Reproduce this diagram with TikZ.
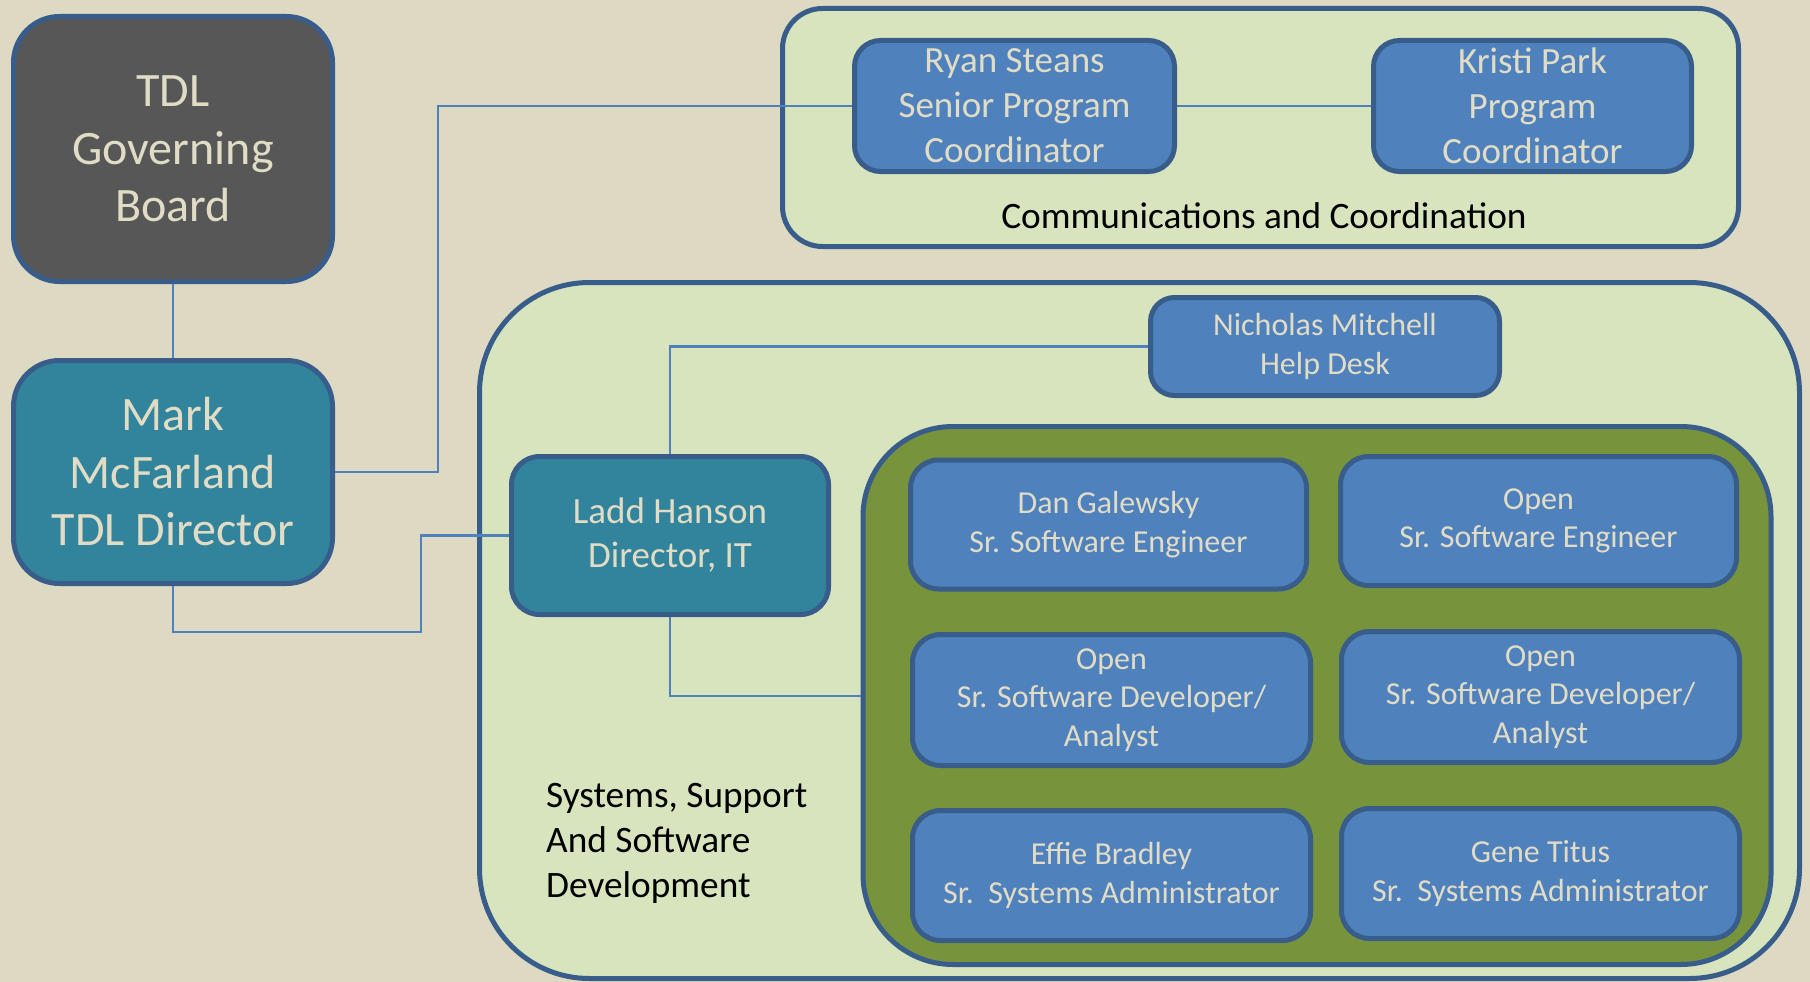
\documentclass[tikz,border=0pt]{standalone}
\usepackage{fontspec}
\setmainfont{Carlito}
\definecolor{bgc}{HTML}{DDD9C3}
\definecolor{bord}{HTML}{385D8A}
\definecolor{bluef}{HTML}{4F81BD}
\definecolor{tealf}{HTML}{31849B}
\definecolor{greyf}{HTML}{575757}
\definecolor{lgreen}{HTML}{D7E4BD}
\definecolor{olive}{HTML}{77933C}
\definecolor{ltext}{HTML}{E1DCC6}
\begin{document}
\begin{tikzpicture}[x=1pt,y=-1pt,
  box/.style={draw=bord, line width=5pt, rectangle, inner sep=0pt, align=center, text=ltext},
  bigbox/.style={box, rounded corners=46pt, font=\fontsize{48}{57.5}\selectfont},
  midbox/.style={box, fill=tealf, rounded corners=28pt, font=\fontsize{37}{44}\selectfont},
  coordbox/.style={box, fill=bluef, rounded corners=26pt, font=\fontsize{37}{45}\selectfont},
  staffbox/.style={box, fill=bluef, rounded corners=28pt, font=\fontsize{32}{38.5}\selectfont},
  conn/.style={draw=bluef, line width=2.2pt},
  lbl/.style={text=black, inner sep=0pt, font=\fontsize{37.3}{45}\selectfont}]
\fill[bgc] (0,0) rectangle (1810,982);
\useasboundingbox (0,0) rectangle (1810,982);
% containers
\node[box, fill=lgreen, rounded corners=40pt, minimum width=956pt, minimum height=238pt] (comm) at (1260.5,127.5) {};
\node[box, fill=lgreen, rounded corners=110pt, minimum width=1320pt, minimum height=696pt] (sys) at (1139.5,630.5) {};
\node[box, fill=olive, rounded corners=90pt, minimum width=908pt, minimum height=538pt] (grn) at (1317,695.5) {};
\node[lbl] (commlbl) at (1264,216) {Communications and Coordination};
\node[lbl, anchor=base west, align=left] (syslbl) at (546,897) {Systems, Support\\And Software\\Development};
% people
\node[bigbox, fill=greyf, minimum width=319pt, minimum height=265pt] (board) at (173,149) {TDL\\Governing\\Board};
\node[bigbox, fill=tealf, minimum width=319pt, minimum height=223pt] (mark) at (173,472) {Mark\\McFarland\\TDL Director};
\node[midbox, minimum width=317pt, minimum height=158pt] (ladd) at (670,535.5) {Ladd Hanson\\Director, IT};
\node[coordbox, minimum width=320pt, minimum height=131pt] (ryan) at (1014.5,106) {Ryan Steans\\Senior Program\\Coordinator};
\node[coordbox, minimum width=318pt, minimum height=131pt] (kristi) at (1532.5,106) {Kristi Park\\Program\\Coordinator};
\node[staffbox, rounded corners=24pt, minimum width=349pt, minimum height=98pt] (nick) at (1325,346.5) {Nicholas Mitchell\\Help Desk};
\node[staffbox, minimum width=396pt, minimum height=129pt] (dan) at (1108.5,524.5) {Dan Galewsky\\Sr. Software Engineer};
\node[staffbox, minimum width=396pt, minimum height=129pt] (opse) at (1538.5,521) {Open\\Sr. Software Engineer};
\node[staffbox, minimum width=398pt, minimum height=131pt] (opdl) at (1111.5,700) {Open\\Sr. Software Developer/\\Analyst};
\node[staffbox, minimum width=398pt, minimum height=131pt] (opdr) at (1540.5,697) {Open\\Sr. Software Developer/\\Analyst};
\node[staffbox, minimum width=398pt, minimum height=130pt] (effie) at (1111.5,875.5) {Effie Bradley\\Sr.\ \ Systems Administrator};
\node[staffbox, minimum width=398pt, minimum height=130pt] (gene) at (1540.5,873.5) {Gene Titus\\Sr.\ \ Systems Administrator};
% connectors
\coordinate (j1) at (438,0);
\coordinate (j2) at (0,632);
\coordinate (j3) at (421,0);
\coordinate (j4) at (0,696);
\draw[conn] (board.south) -- (mark.north);
\draw[conn] (mark.east) -| (j1 |- ryan.west) -- (ryan.west);
\draw[conn] (ryan.east) -- (kristi.west);
\draw[conn] (mark.south) -- (mark.south |- j2) -| (j3 |- ladd.west) -- (ladd.west);
\draw[conn] (nick.west) -| (ladd.north);
\draw[conn] (ladd.south) -- (ladd.south |- j4) -- (grn.west |- j4);
\end{tikzpicture}
\end{document}
